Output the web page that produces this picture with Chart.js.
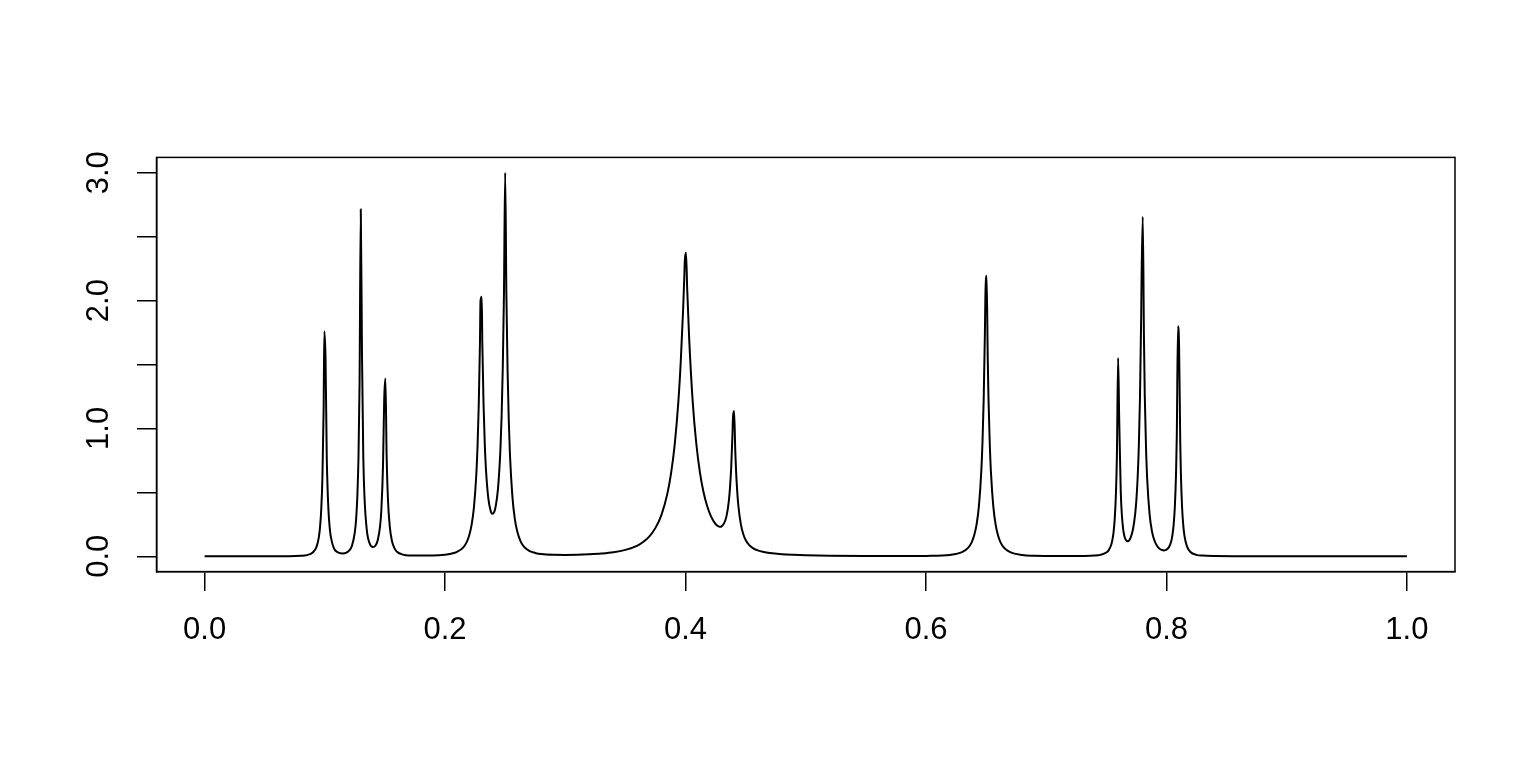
<!DOCTYPE html>
<html lang="en">
<head>
    <meta charset="UTF-8">
    <title>Bumps</title>
    <script src="https://cdn.jsdelivr.net/npm/chart.js"></script>
    <style>
        html, body { margin: 0; padding: 0; background: #fff; }
        canvas { display: block; }
    </style>
</head>
<body>
    <canvas id="bumpsChart" width="1536" height="768"></canvas>

    <script>
        // x positions of the traced curve
        const xs = [
            0, 0.05, 0.07, 0.08, 0.085, 0.09, 0.093, 0.095, 0.096, 0.097, 0.098, 0.099,
            0.0996, 0.1006, 0.1016, 0.102, 0.103, 0.104, 0.105, 0.1075, 0.11, 0.113, 0.115, 0.118,
            0.12, 0.1225, 0.125, 0.126, 0.127, 0.128, 0.1289, 0.1299, 0.1309, 0.132, 0.133, 0.135,
            0.1375, 0.14, 0.142, 0.144, 0.146, 0.147, 0.1484, 0.1494, 0.1504, 0.1514, 0.1525, 0.154,
            0.156, 0.158, 0.16, 0.165, 0.17, 0.18, 0.19, 0.2, 0.205, 0.21, 0.215, 0.218,
            0.22, 0.222, 0.224, 0.226, 0.227, 0.228, 0.229, 0.2295, 0.2305, 0.231, 0.232, 0.233,
            0.234, 0.236, 0.238, 0.2395, 0.241, 0.242, 0.244, 0.246, 0.247, 0.248, 0.249, 0.25,
            0.251, 0.252, 0.253, 0.254, 0.256, 0.258, 0.26, 0.263, 0.266, 0.27, 0.275, 0.28,
            0.29, 0.3, 0.31, 0.32, 0.33, 0.34, 0.35, 0.36, 0.365, 0.37, 0.375, 0.38,
            0.385, 0.388, 0.391, 0.394, 0.396, 0.398, 0.399, 0.3994, 0.4004, 0.4014, 0.403, 0.406,
            0.409, 0.412, 0.415, 0.418, 0.421, 0.424, 0.426, 0.428, 0.429, 0.43, 0.432, 0.434,
            0.436, 0.437, 0.438, 0.439, 0.4395, 0.4404, 0.4414, 0.442, 0.443, 0.444, 0.446, 0.448,
            0.45, 0.453, 0.456, 0.46, 0.465, 0.47, 0.48, 0.49, 0.5, 0.52, 0.55, 0.58,
            0.6, 0.62, 0.63, 0.635, 0.638, 0.64, 0.642, 0.644, 0.646, 0.647, 0.648, 0.649,
            0.6494, 0.6504, 0.6514, 0.652, 0.653, 0.654, 0.656, 0.658, 0.66, 0.662, 0.665, 0.67,
            0.68, 0.69, 0.7, 0.72, 0.73, 0.74, 0.745, 0.75, 0.752, 0.754, 0.755, 0.756,
            0.757, 0.758, 0.7588, 0.7598, 0.7607, 0.762, 0.763, 0.764, 0.765, 0.766, 0.767, 0.768,
            0.769, 0.77, 0.772, 0.774, 0.775, 0.776, 0.777, 0.778, 0.779, 0.7793, 0.7803, 0.7813,
            0.782, 0.783, 0.784, 0.786, 0.788, 0.79, 0.792, 0.794, 0.796, 0.798, 0.8, 0.802,
            0.804, 0.805, 0.806, 0.807, 0.808, 0.8086, 0.8096, 0.8105, 0.8115, 0.812, 0.813, 0.814,
            0.815, 0.817, 0.82, 0.825, 0.83, 0.84, 0.86, 0.9, 0.95, 1.0
        ];

        // curve heights at those positions
        const ys = [
            0, 0.0005, 0.001, 0.004, 0.009, 0.03, 0.071, 0.148, 0.226, 0.363, 0.618, 1.145,
            1.76, 1.54, 0.78, 0.62, 0.365, 0.229, 0.151, 0.064, 0.035, 0.023, 0.022, 0.029,
            0.042, 0.080, 0.190, 0.287, 0.457, 0.776, 1.36, 2.715, 1.59, 0.78, 0.461, 0.198,
            0.096, 0.072, 0.082, 0.126, 0.24, 0.36, 0.713, 1.23, 1.39, 0.79, 0.446, 0.234,
            0.113, 0.062, 0.036, 0.013, 0.006, 0.005, 0.0055, 0.012, 0.02, 0.035, 0.068, 0.111,
            0.160, 0.241, 0.380, 0.64, 0.857, 1.173, 1.654, 2.0, 2.03, 1.665, 1.193, 0.888,
            0.683, 0.452, 0.353, 0.332, 0.35, 0.385, 0.525, 0.824, 1.085, 1.47, 2.06, 3.0,
            2.054, 1.454, 1.06, 0.79, 0.469, 0.294, 0.195, 0.113, 0.071, 0.043, 0.026, 0.017,
            0.011, 0.010, 0.011, 0.015, 0.021, 0.031, 0.050, 0.084, 0.114, 0.156, 0.222, 0.324,
            0.494, 0.65, 0.874, 1.204, 1.516, 1.93, 2.19, 2.31, 2.374, 2.09, 1.71, 1.206,
            0.878, 0.655, 0.501, 0.393, 0.316, 0.265, 0.243, 0.232, 0.231, 0.234, 0.257, 0.31,
            0.43, 0.537, 0.696, 0.941, 1.09, 1.136, 0.82, 0.676, 0.508, 0.391, 0.251, 0.174,
            0.127, 0.087, 0.064, 0.046, 0.033, 0.025, 0.016, 0.011, 0.0076, 0.004, 0.002, 0.0016,
            0.003, 0.0106, 0.032, 0.066, 0.109, 0.16, 0.243, 0.39, 0.664, 0.894, 1.231, 1.744,
            2.03, 2.194, 1.53, 1.231, 0.894, 0.664, 0.39, 0.243, 0.16, 0.109, 0.066, 0.032,
            0.010, 0.004, 0.0022, 0.0015, 0.0023, 0.0053, 0.011, 0.029, 0.048, 0.088, 0.126, 0.187,
            0.294, 0.494, 0.79, 1.55, 1.08, 0.506, 0.313, 0.213, 0.159, 0.132, 0.119, 0.118,
            0.125, 0.141, 0.203, 0.332, 0.441, 0.604, 0.852, 1.245, 1.89, 2.17, 2.655, 1.70,
            1.245, 0.852, 0.602, 0.327, 0.193, 0.123, 0.084, 0.061, 0.05, 0.046, 0.051, 0.07,
            0.118, 0.167, 0.247, 0.389, 0.656, 0.94, 1.80, 1.65, 0.88, 0.654, 0.385, 0.242,
            0.16, 0.079, 0.033, 0.011, 0.005, 0.0016, 0.0005, 0.0001, 0, 0
        ];

        const xTicks = [0, 0.2, 0.4, 0.6, 0.8, 1.0];
        const yTicks = [0, 0.5, 1, 1.5, 2, 2.5, 3];
        const yLabelled = [0, 1, 2, 3];

        const fontFamily = '"Liberation Sans", Arial, Helvetica, sans-serif';

        // R style full box around the plotting region
        const boxPlugin = {
            id: 'plotBox',
            afterDraw(chart) {
                const { ctx, chartArea } = chart;
                ctx.save();
                ctx.strokeStyle = '#000';
                ctx.lineWidth = 1.5;
                ctx.strokeRect(chartArea.left, chartArea.top,
                    chartArea.right - chartArea.left, chartArea.bottom - chartArea.top);
                ctx.restore();
            }
        };

        const points = xs.map((x, i) => ({ x: x, y: ys[i] }));

        const ctx = document.getElementById('bumpsChart').getContext('2d');
        new Chart(ctx, {
            type: 'line',
            data: {
                datasets: [{
                    data: points,
                    borderColor: '#000',
                    borderWidth: 2,
                    pointRadius: 0,
                    fill: false,
                    cubicInterpolationMode: 'monotone',
                    borderJoinStyle: 'round'
                }]
            },
            options: {
                responsive: false,
                animation: false,
                layout: {
                    padding: { top: 157.4, right: 81, left: 0, bottom: 0 }
                },
                plugins: {
                    legend: { display: false },
                    tooltip: { enabled: false }
                },
                scales: {
                    x: {
                        type: 'linear',
                        min: -0.04,
                        max: 1.04,
                        afterBuildTicks: (scale) => { scale.ticks = xTicks.map(v => ({ value: v })); },
                        afterFit: (scale) => { scale.height = 196.4; },
                        grid: { drawOnChartArea: false, tickLength: 19.5, color: '#000', lineWidth: 1.5 },
                        border: { display: true, color: '#000', width: 1.5 },
                        ticks: {
                            autoSkip: false,
                            maxRotation: 0,
                            padding: 21,
                            color: '#000',
                            font: { family: fontFamily, size: 31 },
                            callback: (v) => Number(v).toFixed(1)
                        }
                    },
                    y: {
                        type: 'linear',
                        min: -0.12,
                        max: 3.12,
                        afterBuildTicks: (scale) => { scale.ticks = yTicks.map(v => ({ value: v })); },
                        afterFit: (scale) => { scale.width = 156.5; },
                        grid: { drawOnChartArea: false, tickLength: 19.5, color: '#000', lineWidth: 1.5 },
                        border: { display: true, color: '#000', width: 1.5 },
                        ticks: {
                            autoSkip: false,
                            minRotation: 90,
                            maxRotation: 90,
                            crossAlign: 'center',
                            padding: 16,
                            color: '#000',
                            font: { family: fontFamily, size: 31 },
                            callback: (v) => yLabelled.includes(v) ? Number(v).toFixed(1) : ''
                        }
                    }
                }
            },
            plugins: [boxPlugin]
        });
    </script>
</body>
</html>
